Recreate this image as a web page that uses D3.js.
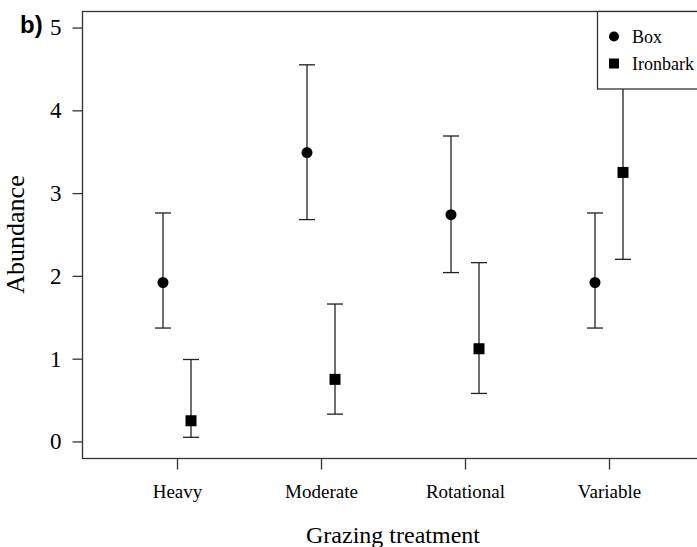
<!DOCTYPE html>
<html>
<head>
<meta charset="utf-8">
<script src="https://cdn.jsdelivr.net/npm/d3@7"></script>
<style>
  body { margin: 0; background: #fff; }
  svg { display: block; }
  text { font-family: "Liberation Serif", "Times New Roman", serif; fill: #000; }
</style>
</head>
<body>
<div id="chart"></div>
<script>
'use strict';

// grazing treatments on the x axis
const categories = ["Heavy", "Moderate", "Rotational", "Variable"];

// Box woodland: mean abundance and interval
const boxMean  = [1.92, 3.49, 2.74, 1.92];
const boxLower = [1.37, 2.68, 2.04, 1.37];
const boxUpper = [2.76, 4.55, 3.69, 2.76];

// Ironbark woodland
const ironMean  = [0.25, 0.75, 1.12, 3.25];
const ironLower = [0.05, 0.33, 0.58, 2.20];
const ironUpper = [0.99, 1.66, 2.16, 4.32];

const yTicks = [0, 1, 2, 3, 4, 5];

const width = 697, height = 547;
const margin = {top: 11, right: -12, bottom: 89, left: 82};

const svg = d3.select("#chart")
    .append("svg")
    .attr("width", width)
    .attr("height", height)
    .attr("viewBox", [0, 0, width, height]);

// R style: axis range pads 4% on each side
const yScale = d3.scaleLinear()
    .domain([-0.2, 5.2])
    .range([height - margin.bottom, margin.top]);

const xScale = d3.scalePoint()
    .domain(categories)
    .range([177, 609]);

const dodge = 14;

const series = [
    {name: "Box", shape: "circle", offset: -dodge, mean: boxMean, lower: boxLower, upper: boxUpper},
    {name: "Ironbark", shape: "square", offset: dodge, mean: ironMean, lower: ironLower, upper: ironUpper}
];

// frame
svg.append("rect")
    .attr("x", margin.left + 0.5)
    .attr("y", yScale(5.2) + 0.5)
    .attr("width", width - margin.left - margin.right)
    .attr("height", yScale(-0.2) - yScale(5.2))
    .attr("fill", "none")
    .attr("stroke", "#333")
    .attr("stroke-width", 1.3);

// y axis
svg.append("g")
    .attr("transform", `translate(${margin.left + 0.5},0)`)
    .call(d3.axisLeft(yScale).tickValues(yTicks).tickFormat(d3.format("d")).tickSize(10).tickPadding(11))
    .call(g => g.select(".domain").remove())
    .call(g => g.selectAll(".tick line").attr("stroke", "#333").attr("stroke-width", 1.3))
    .call(g => g.selectAll(".tick text")
        .attr("font-size", 23)
        .attr("fill", "#000"));

// x axis
svg.append("g")
    .attr("transform", `translate(0,${yScale(-0.2) + 0.5})`)
    .call(d3.axisBottom(xScale).tickSize(11).tickPadding(15))
    .call(g => g.select(".domain").remove())
    .call(g => g.selectAll(".tick line").attr("stroke", "#333").attr("stroke-width", 1.3))
    .call(g => g.selectAll(".tick text")
        .attr("font-size", 19)
        .attr("fill", "#000"));

// axis titles
svg.append("text")
    .attr("x", (xScale("Heavy") + xScale("Variable")) / 2)
    .attr("y", 543)
    .attr("text-anchor", "middle")
    .attr("font-size", 24)
    .text("Grazing treatment");

svg.append("text")
    .attr("transform", `translate(24,${(yScale(-0.2) + yScale(5.2)) / 2}) rotate(-90)`)
    .attr("text-anchor", "middle")
    .attr("font-size", 26)
    .text("Abundance");

// panel label
svg.append("text")
    .attr("x", 20)
    .attr("y", 33)
    .style("font-family", "Liberation Sans, Arial, sans-serif")
    .attr("font-weight", "bold")
    .attr("font-size", 24)
    .text("b)");

// error bars and points
const capHalf = 8;
series.forEach(s => {
    const rows = categories.map((c, i) => ({
        cat: c, mean: s.mean[i], lower: s.lower[i], upper: s.upper[i]
    }));
    const g = svg.append("g").attr("class", "series-" + s.name);
    const bars = g.selectAll("g.bar")
        .data(rows)
        .join("g")
        .attr("class", "bar")
        .attr("transform", d => `translate(${xScale(d.cat) + s.offset},0)`)
        .attr("stroke", "#222")
        .attr("stroke-width", 1.3);
    bars.append("line")
        .attr("x1", 0).attr("x2", 0)
        .attr("y1", d => yScale(d.lower))
        .attr("y2", d => yScale(d.upper));
    bars.append("line")
        .attr("x1", -capHalf).attr("x2", capHalf)
        .attr("y1", d => yScale(d.lower))
        .attr("y2", d => yScale(d.lower));
    bars.append("line")
        .attr("x1", -capHalf).attr("x2", capHalf)
        .attr("y1", d => yScale(d.upper))
        .attr("y2", d => yScale(d.upper));
    if (s.shape === "circle") {
        bars.append("circle")
            .attr("cy", d => yScale(d.mean))
            .attr("r", 5.5)
            .attr("fill", "#000")
            .attr("stroke", "none");
    } else {
        bars.append("rect")
            .attr("x", -5.5)
            .attr("y", d => yScale(d.mean) - 5.5)
            .attr("width", 11)
            .attr("height", 11)
            .attr("fill", "#000")
            .attr("stroke", "none");
    }
});

// legend
const legend = svg.append("g").attr("transform", `translate(597.5,${yScale(5.2) + 0.5})`);
legend.append("rect")
    .attr("width", 130)
    .attr("height", 77.5)
    .attr("fill", "#fff")
    .attr("stroke", "#333")
    .attr("stroke-width", 1.3);

const legendRows = legend.selectAll("g.item")
    .data(series)
    .join("g")
    .attr("class", "item")
    .attr("transform", (d, i) => `translate(0,${25 + i * 27})`);

legendRows.each(function (d) {
    const item = d3.select(this);
    if (d.shape === "circle") {
        item.append("circle").attr("cx", 16.5).attr("cy", 0).attr("r", 5).attr("fill", "#000");
    } else {
        item.append("rect").attr("x", 11.5).attr("y", -5).attr("width", 10).attr("height", 10).attr("fill", "#000");
    }
    item.append("text")
        .attr("x", 34.5)
        .attr("y", 6.5)
        .attr("font-size", 18)
        .text(d.name);
});
</script>
</body>
</html>
